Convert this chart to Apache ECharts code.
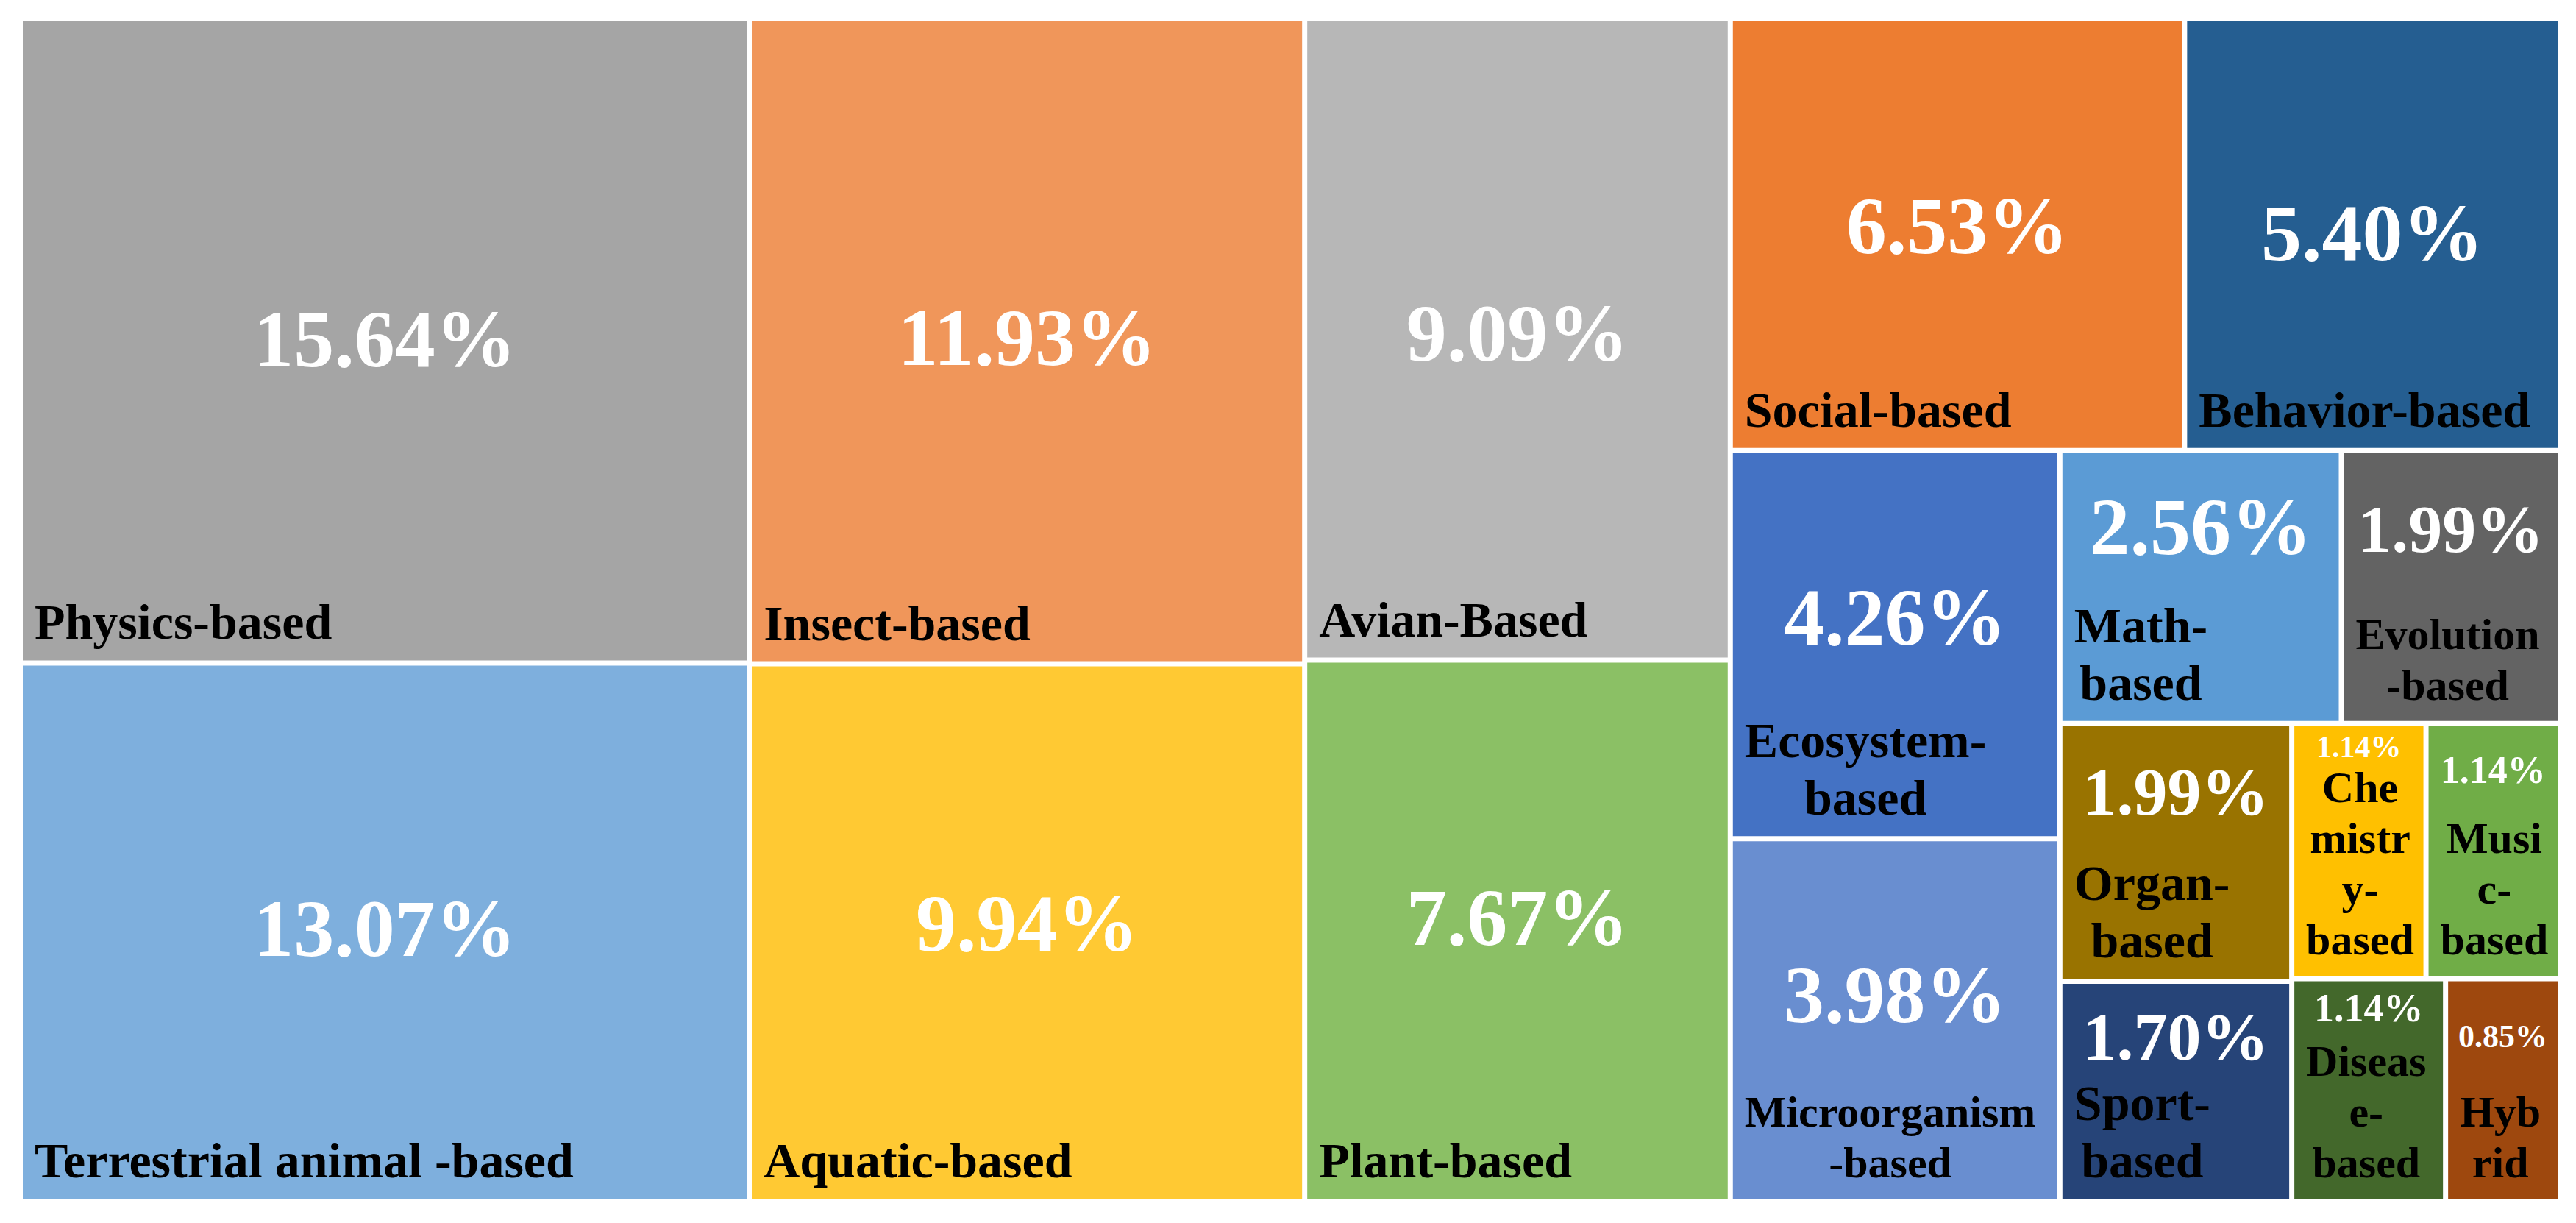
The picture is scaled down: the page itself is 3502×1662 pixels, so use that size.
<!DOCTYPE html>
<html>
<head>
<meta charset="utf-8">
<script src="https://cdn.jsdelivr.net/npm/echarts@6/dist/echarts.min.js"></script>
<style>
    html, body { margin: 0; padding: 0; background: #fff; }
    #main { width: 3502px; height: 1662px; }
</style>
</head>
<body>
<div id="main"></div>
<script>
// categories (line breaks as in the picture) and their shares in %
var categories = ['Physics-based', 'Terrestrial animal -based', 'Insect-based', 'Aquatic-based',
    'Avian-Based', 'Plant-based', 'Social-based', 'Behavior-based', 'Ecosystem-\nbased',
    'Microorganism\n-based', 'Math-\nbased', 'Evolution\n-based', 'Organ-\nbased', 'Sport-\nbased',
    'Che\nmistr\ny-\nbased', 'Musi\nc-\nbased', 'Diseas\ne-\nbased', 'Hyb\nrid'];
var shares = [15.64, 13.07, 11.93, 9.94, 9.09, 7.67, 6.53, 5.40, 4.26, 3.98, 2.56, 1.99, 1.99, 1.70,
    1.14, 1.14, 1.14, 0.85];

// fill colours (excel palette)
var colors = ['#A5A5A5', '#7EAFDD', '#F0965A', '#FFC933', '#B7B7B7', '#8BC065', '#ED7D31', '#255E91',
    '#4472C4', '#698ED0', '#5B9BD5', '#636363', '#997300', '#264478', '#FFC000', '#70AD47',
    '#43682B', '#9E480E'];

// label look: value font, value vertical place (share of box height), name font
var valueFont = [110, 110, 110, 110, 110, 110, 110, 110, 110, 110, 110, 92, 92, 92, 42, 52, 54, 44];
var valuePlace = [0.498, 0.494, 0.495, 0.483, 0.49, 0.476, 0.48, 0.496, 0.43, 0.43, 0.275, 0.284,
    0.26, 0.247, 0.082, 0.176, 0.125, 0.253];
var nameFont = [68, 68, 68, 68, 68, 68, 68, 68, 68, 60, 68, 60, 68, 68, 60, 60, 60, 60];

var FONT = '"Liberation Serif", "Times New Roman", serif';

var chart = echarts.init(document.getElementById('main'), null, {renderer: 'svg'});

var items = [];
for (var i = 0; i < categories.length; i++) {
    items.push({
        name: categories[i],
        value: shares[i],
        itemStyle: {color: colors[i]}
    });
}

var option = {
    backgroundColor: '#fff',
    animation: false,
    series: [{
        type: 'treemap',
        left: 31,
        top: 29,
        width: 3446,
        height: 1600,
        sort: false,
        squareRatio: 1,
        roam: false,
        nodeClick: false,
        breadcrumb: {show: false},
        label: {show: false},
        upperLabel: {show: false},
        itemStyle: {borderWidth: 0, gapWidth: 7, borderColor: '#fff'},
        levels: [
            {itemStyle: {borderWidth: 0, gapWidth: 7}},
            {itemStyle: {borderWidth: 0}}
        ],
        data: items
    }]
};
chart.setOption(option);

// put the labels on the boxes the treemap laid out
var ctx = document.createElement('canvas').getContext('2d');

function textWidth(str, size) {
    ctx.font = 'bold ' + size + 'px ' + FONT;
    return ctx.measureText(str).width;
}

function buildLabels() {
    var seriesModel = chart.getModel().getSeriesByIndex(0);
    var tree = seriesModel.getData().tree;
    var info = seriesModel.layoutInfo || {x: 31, y: 29};
    var rootLayout = tree.root.getLayout() || {x: 0, y: 0};
    var graphics = [];
    tree.root.children.forEach(function (node) {
        var idx = categories.indexOf(node.name);
        var lay = node.getLayout();
        if (idx < 0 || !lay) {
            return;
        }
        var x0 = info.x + (rootLayout.x || 0) + lay.x;
        var y0 = info.y + (rootLayout.y || 0) + lay.y;
        // value
        graphics.push({
            type: 'text',
            silent: true,
            z: 100,
            x: x0 + lay.width / 2,
            y: y0 + lay.height * valuePlace[idx],
            style: {
                text: shares[idx].toFixed(2) + '%',
                fontSize: valueFont[idx],
                fontWeight: 'bold',
                fontFamily: FONT,
                fill: '#fff',
                align: 'center',
                textAlign: 'center',
                verticalAlign: 'middle',
                textVerticalAlign: 'middle'
            }
        });
        // name, bottom left, lines centred on each other
        var nf = nameFont[idx];
        var lineH = Math.round(nf * 1.15);
        var lines = categories[idx].split('\n');
        var maxW = 0;
        lines.forEach(function (l) {
            maxW = Math.max(maxW, textWidth(l, nf));
        });
        var baseLine = y0 + lay.height - 29;
        graphics.push({
            type: 'text',
            silent: true,
            z: 100,
            x: x0 + 16 + maxW / 2,
            y: baseLine - 0.3375 * nf + lineH / 2,
            style: {
                text: categories[idx],
                fontSize: nf,
                fontWeight: 'bold',
                fontFamily: FONT,
                fill: '#000',
                lineHeight: lineH,
                align: 'center',
                textAlign: 'center',
                verticalAlign: 'bottom',
                textVerticalAlign: 'bottom'
            }
        });
    });
    chart.setOption({graphic: graphics});
}

buildLabels();
</script>
</body>
</html>
